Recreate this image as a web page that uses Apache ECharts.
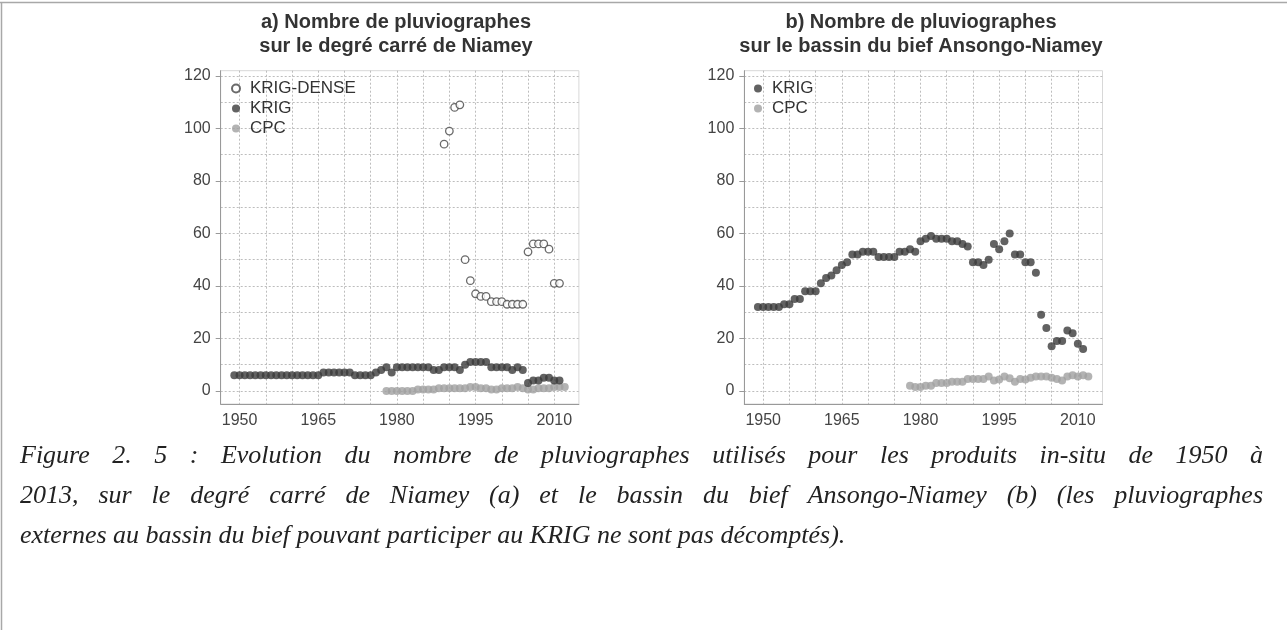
<!DOCTYPE html>
<html>
<head>
<meta charset="utf-8">
<script src="https://cdn.jsdelivr.net/npm/echarts@6/dist/echarts.min.js"></script>
<style>
html,body{margin:0;padding:0;background:#fff;}
#c{width:1287px;height:630px;}
</style>
</head>
<body>
<div id="c"></div>
<script>
// ---------- DATA ----------
const krigYears = [1949,1950,1951,1952,1953,1954,1955,1956,1957,1958,1959,1960,1961,1962,1963,1964,1965,1966,1967,1968,1969,1970,1971,1972,1973,1974,1975,1976,1977,1978,1979,1980,1981,1982,1983,1984,1985,1986,1987,1988,1989,1990,1991,1992,1993,1994,1995,1996,1997,1998,1999,2000,2001,2002,2003,2004,2005,2006,2007,2008,2009,2010,2011];
const cpcYears = [1978,1979,1980,1981,1982,1983,1984,1985,1986,1987,1988,1989,1990,1991,1992,1993,1994,1995,1996,1997,1998,1999,2000,2001,2002,2003,2004,2005,2006,2007,2008,2009,2010,2011,2012];
const denseYears = [1989,1990,1991,1992,1993,1994,1995,1996,1997,1998,1999,2000,2001,2002,2003,2004,2005,2006,2007,2008,2009,2010,2011];

// a) degré carré de Niamey
const niameyKrigDense = [94,99,108,109,50,42,37,36,36,34,34,34,33,33,33,33,53,56,56,56,54,41,41];
const niameyKrig = [6,6,6,6,6,6,6,6,6,6,6,6,6,6,6,6,6,7,7,7,7,7,7,6,6,6,6,7,8,9,7,9,9,9,9,9,9,9,8,8,9,9,9,8,10,11,11,11,11,9,9,9,9,8,9,8,3,4,4,5,5,4,4];
const niameyCpc = [0,0,0,0,0,0,0.5,0.5,0.5,0.5,1,1,1,1,1,1,1.5,1.5,1,1,0.5,0.5,1,1,1,1.5,1,0.5,0.5,1,1,1,1.5,1.5,1.5];

// b) bassin du bief Ansongo-Niamey
const biefKrig = [32,32,32,32,32,33,33,35,35,38,38,38,41,43,44,46,48,49,52,52,53,53,53,51,51,51,51,53,53,54,53,57,58,59,58,58,58,57,57,56,55,49,49,48,50,56,54,57,60,52,52,49,49,45,29,24,17,19,19,23,22,18,16];
const biefCpc = [2,1.5,1.5,2,2,3,3,3,3.5,3.5,3.5,4.5,4.5,4.5,4.5,5.5,4,4.3,5.5,4.8,3.5,4.5,4.3,5,5.5,5.5,5.5,5,4.5,4,5.5,6,5.5,6,5.5];

// ticks / labels
const xLabelTicks = [1950,1965,1980,1995,2010];
const xGridTicks = [1950,1955,1960,1965,1970,1975,1980,1985,1990,1995,2000,2005,2010];
const yLabelTicks = [0,20,40,60,80,100,120];
const yGridTicks = [0,10,20,30,40,50,60,70,80,90,100,110,120];

const titleA = ['a) Nombre de pluviographes','sur le degré carré de Niamey'];
const titleB = ['b) Nombre de pluviographes','sur le bassin du bief Ansongo-Niamey'];
const captionLines = [
  'Figure 2. 5 : Evolution du nombre de pluviographes utilisés pour les produits in-situ de 1950 à',
  '2013, sur le degré carré de Niamey (a) et le bassin du bief Ansongo-Niamey (b) (les pluviographes',
  'externes au bassin du bief pouvant participer au KRIG ne sont pas décomptés).'
];

// ---------- LAYOUT ----------
const FONT = '"Liberation Sans", Arial, sans-serif';
const XMIN = 1946.4, XMAX = 2014.7, YMIN = -5, YMAX = 122;
const GRID_TOP = 70.7, GRID_H = 333.3, GRID_W = 358.2;
const gridLefts = [220.7, 744.3];

function pairs(xs, ys){ return xs.map((x,i)=>[x, ys[i]]); }

const grids = gridLefts.map(l => ({left:l, top:GRID_TOP, width:GRID_W, height:GRID_H, show:true, borderColor:'#d8d8d8', borderWidth:1, backgroundColor:'transparent'}));

const xAxes = [], yAxes = [];
[0,1].forEach(g => {
  xAxes.push({
    type:'value', gridIndex:g, min:XMIN, max:XMAX,
    axisLine:{show:true, onZero:false, lineStyle:{color:'#999', width:1}},
    axisTick:{show:false, customValues:xGridTicks},
    axisLabel:{customValues:xLabelTicks, color:'#444', fontSize:16, fontFamily:FONT, margin:9, formatter: v => String(v)},
    splitLine:{show:true, lineStyle:{color:'#bdbdbd', type:[2,2], width:1}}
  });
  yAxes.push({
    type:'value', gridIndex:g, min:YMIN, max:YMAX,
    axisLine:{show:true, onZero:false, lineStyle:{color:'#999', width:1}},
    axisTick:{show:true, customValues:yLabelTicks, length:5, lineStyle:{color:'#999'}},
    axisLabel:{customValues:yLabelTicks, color:'#444', fontSize:16, fontFamily:FONT, margin:10},
    splitLine:{show:false}
  });
  yAxes.push({
    type:'value', gridIndex:g, min:YMIN, max:YMAX,
    axisLine:{show:false}, axisLabel:{show:false},
    axisTick:{show:false, customValues:yGridTicks},
    splitLine:{show:true, lineStyle:{color:'#bdbdbd', type:[2,2], width:1}}
  });
});

const KRIG_COL = '#3b3b3b', CPC_COL = '#a0a0a0';
const series = [
  {name:'CPC', type:'scatter', xAxisIndex:0, yAxisIndex:0, symbolSize:8, itemStyle:{color:CPC_COL}, data:pairs(cpcYears, niameyCpc)},
  {name:'KRIG', type:'scatter', xAxisIndex:0, yAxisIndex:0, symbolSize:8, itemStyle:{color:KRIG_COL}, data:pairs(krigYears, niameyKrig)},
  {name:'KRIG-DENSE', type:'scatter', xAxisIndex:0, yAxisIndex:0, symbolSize:7.5, itemStyle:{color:'#ffffff', borderColor:'#454545', borderWidth:1.3}, data:pairs(denseYears, niameyKrigDense)},
  {name:'CPC', type:'scatter', xAxisIndex:1, yAxisIndex:2, symbolSize:8, itemStyle:{color:CPC_COL}, data:pairs(cpcYears, biefCpc)},
  {name:'KRIG', type:'scatter', xAxisIndex:1, yAxisIndex:2, symbolSize:8, itemStyle:{color:KRIG_COL}, data:pairs(krigYears, biefKrig)}
];

const legendCommon = {orient:'vertical', itemWidth:18, itemHeight:8, itemGap:3, icon:'circle', selectedMode:false,
  textStyle:{color:'#333', fontSize:17, fontFamily:FONT, lineHeight:17, padding:[0,0,0,0]}};
const legends = [
  Object.assign({}, legendCommon, {left:226, top:75, data:['KRIG-DENSE','KRIG','CPC']}),
  Object.assign({}, legendCommon, {left:749, top:75, data:['KRIG','CPC']})
];

// ---------- GRAPHICS: titles, caption, frame ----------
const graphics = [];
graphics.push({type:'line', shape:{x1:0,y1:2.5,x2:1287,y2:2.5}, style:{stroke:'#a8a8a8', lineWidth:1.5}, silent:true});
graphics.push({type:'line', shape:{x1:1.5,y1:2.5,x2:1.5,y2:630}, style:{stroke:'#a8a8a8', lineWidth:1.5}, silent:true});
[[titleA, 396],[titleB, 921]].forEach(([t, cx]) => {
  t.forEach((line, i) => graphics.push({type:'text', x:cx, y:22 + i*24, silent:true,
    style:{text:line, font:'bold 20px ' + FONT, fill:'#333', align:'center', verticalAlign:'middle'}}));
});

const CAP_FONT = 'italic 26px "Liberation Serif", "Times New Roman", serif';
const cx0 = 20, cx1 = 1263;
const ctx = document.createElement('canvas').getContext('2d');
ctx.font = CAP_FONT;
captionLines.forEach((line, li) => {
  const y = 456 + li*40;
  const words = line.split(' ');
  const ws = words.map(w => ctx.measureText(w).width);
  const total = ws.reduce((a,b)=>a+b,0);
  const justify = li < captionLines.length - 1;
  const gap = justify ? (cx1 - cx0 - total)/(words.length - 1) : ctx.measureText(' ').width;
  let x = cx0;
  words.forEach((w, i) => {
    graphics.push({type:'text', x:x, y:y, silent:true,
      style:{text:w, font:CAP_FONT, fill:'#222', align:'left', verticalAlign:'middle'}});
    x += ws[i] + gap;
  });
});

const chart = echarts.init(document.getElementById('c'), null, {renderer:'canvas'});
chart.setOption({
  animation:false,
  backgroundColor:'#ffffff',
  grid:grids, xAxis:xAxes, yAxis:yAxes,
  legend:legends, series:series, graphic:graphics
});
</script>
</body>
</html>
